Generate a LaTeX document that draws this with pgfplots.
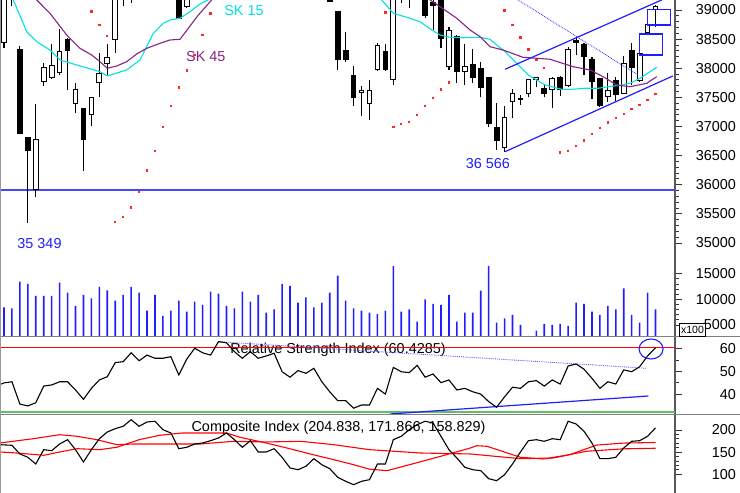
\documentclass[border=0pt]{standalone}
\usepackage{pgfplots}
\pgfplotsset{compat=1.18}
\usepackage{pgfplotstable}
\usepackage{fontspec}
\setmainfont{Liberation Sans}

\definecolor{skcyan}{RGB}{0,225,225}
\definecolor{skpurple}{RGB}{136,34,136}
\definecolor{lblue}{RGB}{30,30,255}
\definecolor{hblue}{RGB}{70,70,255}
\definecolor{dblue}{RGB}{90,90,255}
\definecolor{sarred}{RGB}{255,40,40}
\definecolor{rsigreen}{RGB}{100,190,100}
\newcommand\tfont{\fontsize{14.4}{16}\selectfont}

% candles: index, open, high, low, close, up(1)/down(0)
\pgfplotstableread{
i o h l c d
0 38438 39600 38342 39430 1
1 39380 39520 39069 39450 1
2 38325 38382 36866 36883 0
3 36814 36814 35349 36584 0
4 35921 37386 35784 36780 1
5 37769 38095 37700 38009 1
6 37845 38416 37815 38039 1
7 37923 38669 37884 38284 1
8 38497 38514 37626 38301 0
9 37386 37752 37226 37638 1
10 37312 37320 36241 36780 0
11 37214 37510 37008 37501 1
12 37752 38267 37511 37913 1
13 38073 38416 37884 38188 1
14 38497 39400 38267 39300 1
15 39350 39600 39069 39480 1
16 39480 39750 39125 39650 1
17 39650 39720 39300 39480 0
18 39480 39800 39450 39720 1
19 39720 39850 39550 39640 0
20 39640 39760 39520 39650 1
21 39650 39800 39500 39700 1
22 39500 39720 38840 38858 0
23 39057 39600 39040 39500 1
24 39520 39820 39450 39780 1
25 39780 39850 39600 39680 0
26 39680 39760 39550 39620 0
27 39650 40050 39600 40000 1
28 40000 40100 39900 40020 1
29 40020 40050 39800 39850 0
30 39850 39900 39650 39700 0
31 39700 39950 39650 39880 1
32 39880 39920 39650 39720 0
33 39720 39850 39650 39790 1
34 39790 39900 39700 39850 1
35 39850 39870 39450 39500 0
36 39500 39560 39300 39380 0
37 39380 39580 39350 39520 1
38 39520 39560 39380 39450 0
39 39450 39620 39400 39560 1
40 39560 39580 39300 39330 0
41 39330 39400 39130 39142 0
42 38971 38990 37970 38142 0
43 38301 38627 38112 38142 0
44 37867 38039 37352 37494 0
45 37580 37695 37179 37626 1
46 37398 37798 37111 37626 1
47 37970 38439 37958 38382 1
48 38284 38416 37958 37970 0
49 37815 39300 37712 39250 1
50 39250 39500 39115 39400 1
51 39380 39450 39029 39320 0
52 39320 39550 39250 39500 1
53 39450 39550 38858 38914 0
54 39125 39250 38657 39069 0
55 39250 39300 38342 38514 0
56 38027 38703 37970 38645 1
57 38542 38571 37752 37941 0
58 37941 38416 37712 38027 1
59 38056 38325 37752 37845 0
60 37999 38112 37501 37673 0
61 37845 37850 36986 37043 0
62 36986 37398 36600 36756 0
63 36643 37352 36566 37158 1
64 37426 37638 37141 37570 1
65 37484 37541 37369 37467 0
66 37570 37815 37501 37810 1
67 37810 37850 37673 37845 1
68 37656 37712 37501 37570 0
69 37638 37845 37312 37827 1
70 37845 37867 37523 37638 0
71 37712 38360 37673 38325 1
72 38473 38514 38227 38439 0
73 38416 38439 37884 38210 0
74 38142 38188 37467 37769 0
75 37827 37830 37340 37352 0
76 37511 37923 37426 37614 1
77 37798 37855 37426 37541 0
78 37570 38210 37558 38073 1
79 38301 38428 37712 38016 0
80 37798 38250 37769 38245 1
81 38610 38745 38605 38743 1
82 39012 39086 38713 39057 1
}\price

\pgfplotstableread{
i v
0 8445
1 8250
2 13450
3 12995
4 10655
5 10655
6 10655
7 13255
8 11305
9 8705
10 10850
11 10200
12 12410
13 11760
14 9745
15 10850
16 12410
17 11305
18 7795
19 10850
20 6755
21 7795
22 9745
23 7600
24 9550
25 8900
26 11500
27 11110
28 8705
29 8250
30 11500
31 9550
32 10850
33 7405
34 8055
35 12995
36 12605
37 9355
38 10395
39 8445
40 9355
41 11305
42 14620
43 9745
44 8250
45 7795
46 7405
47 7145
48 7795
49 16505
50 7600
51 8055
52 5650
53 10005
54 9095
55 8900
56 10850
57 5650
58 7405
59 7405
60 11695
61 16505
62 5455
63 6300
64 6950
65 5000
66 2855
67 3895
68 5195
69 5000
70 5195
71 4805
72 9355
73 9095
74 7600
75 6950
76 8705
77 8055
78 12150
79 6950
80 5455
81 11305
82 8055
}\vol

\pgfplotstableread{
i r
-1 43.6
0 45.0
1 45.5
2 35.7
3 34.9
4 36.3
5 43.6
6 44.1
7 45.5
8 45.5
9 41.9
10 37.8
11 42.6
12 46.3
13 47.7
14 53.9
15 54.3
16 58.2
17 54.7
18 57.2
19 55.8
20 55.8
21 56.5
22 48.5
23 55.4
24 60.2
25 58.2
26 57.2
27 63.1
28 62.6
29 58.7
30 55.8
31 58.7
32 55.8
33 56.8
34 58.0
35 49.9
36 47.5
37 50.4
38 49.2
39 51.4
40 45.5
41 41.1
42 37.2
43 37.2
44 33.9
45 35.3
46 35.3
47 42.6
48 40.1
49 51.8
50 49.9
51 49.5
52 52.7
53 47.5
54 48.9
55 45.1
56 46.3
57 41.9
58 42.6
59 41.1
60 40.1
61 36.8
62 34.3
63 38.9
64 43.1
65 42.6
66 45.5
67 46.0
68 43.6
69 46.3
70 44.5
71 52.4
72 53.3
73 51.0
74 47.0
75 42.6
76 45.5
77 44.5
78 50.7
79 49.9
80 52.1
81 56.8
82 60.43
}\rsi

\pgfplotstableread{
i c
-1 167.3
0 166.4
1 165.5
2 145.9
3 138.4
4 123.3
5 155.6
6 153.3
7 168.4
8 178.1
9 155.6
10 127.8
11 155.6
12 180.4
13 195.5
14 203.0
15 208.4
16 223.3
17 208.4
18 218.1
19 219.7
20 200.7
21 193.3
22 157.8
23 161.0
24 168.4
25 170.7
26 175.9
27 182.0
28 193.3
29 178.1
30 161.0
31 175.9
32 150.4
33 150.4
34 157.8
35 138.4
36 114.3
37 110.4
38 118.1
39 135.3
40 121.7
41 112.7
42 93.3
43 84.2
44 76.6
45 84.2
46 87.9
47 123.3
48 123.3
49 178.1
50 185.8
51 200.7
52 212.0
53 219.7
54 215.8
55 185.8
56 155.6
57 136.8
58 115.8
59 110.4
60 108.2
61 90.1
62 85.6
63 99.1
64 123.3
65 150.4
66 175.9
67 178.1
68 174.5
69 180.4
70 178.1
71 219.7
72 213.6
73 197.1
74 170.7
75 135.3
76 135.3
77 138.4
78 159.4
79 174.5
80 175.9
81 185.8
82 204.84
}\comp

\pgfplotsset{
  panel/.style={
    scale only axis, width=675pt, xmin=-0.503, xmax=84.45,
    anchor=south west,
    axis x line=none, axis y line*=right,
    scaled y ticks=false,
    tick align=outside, major tick length=7pt, minor tick length=4pt,
    tick style={black!80, line width=0.8pt},
    axis line style={black!65, line width=1.3pt},
    yticklabel style={font=\tfont, anchor=east, inner sep=0pt, xshift=54pt},
    /pgf/number format/1000 sep={},
    /pgf/number format/assume math mode=true,
  },
}

\begin{document}
\begin{tikzpicture}
\useasboundingbox (0pt,0pt) rectangle (740pt,493pt);

% ---------------- price panel ----------------
\begin{axis}[panel, at={(0pt,233pt)}, height=260pt,
  ymin=34707.5, ymax=39171.7,
  ytick={35000,35500,...,39000}, minor y tick num=4]
\addplot[draw=hblue, line width=1.7pt] coordinates {(-0.6,35914) (84.5,35914)};
% parabolic SAR
\addplot[sarred, only marks, mark=square*, mark size=0.7pt, mark options={draw=sarred, fill=sarred, line width=0pt}] table {
i p
11 38971
12 38743
13 38554
14 35365
15 35441
16 35612
17 35880
18 36241
19 36584
20 36986
21 37352
22 37669
23 37958
24 38227
25 38571
26 38943
48 38954
49 36986
50 37043
51 37082
52 37197
53 37352
54 37484
55 37638
56 37752
63 38988
64 38743
65 38531
66 38325
67 38142
68 37999
70 36550
71 36584
72 36665
73 36756
74 36871
75 36969
76 37065
77 37141
78 37214
79 37295
80 37369
81 37455
82 37558
};
% candles
\pgfplotsforeachungrouped \r in {0,...,82}{%
  \pgfplotstablegetelem{\r}{i}\of\price\edef\vI{\pgfplotsretval}%
  \pgfplotstablegetelem{\r}{o}\of\price\edef\vO{\pgfplotsretval}%
  \pgfplotstablegetelem{\r}{h}\of\price\edef\vH{\pgfplotsretval}%
  \pgfplotstablegetelem{\r}{l}\of\price\edef\vL{\pgfplotsretval}%
  \pgfplotstablegetelem{\r}{c}\of\price\edef\vC{\pgfplotsretval}%
  \pgfplotstablegetelem{\r}{d}\of\price\edef\vD{\pgfplotsretval}%
  \pgfmathsetmacro\xl{\vI-0.3}\pgfmathsetmacro\xr{\vI+0.3}%
  \ifnum\vD=1 \def\fc{white}\else\def\fc{black}\fi
  \edef\tmp{\noexpand\addplot[draw=black, line width=1.1pt, forget plot] coordinates {(\vI,\vL) (\vI,\vH)};
    \noexpand\addplot[draw=black, fill=\fc, line width=1pt, forget plot] coordinates {(\xl,\vO) (\xr,\vO) (\xr,\vC) (\xl,\vC)} -- cycle;}%
  \tmp
}
% SK 15
\addplot[draw=skcyan, line width=1.1pt] table {
x p
0.5 39515
1.17 39172
2.86 38627
4.12 38456
5.79 38313
7.05 38142
9.15 38056
12.08 37941
13.0 37867
15.44 37970
17.12 38142
18.79 38600
20.05 38772
20.89 38828
22.15 38858
23.41 38971
24.67 39103
25.71 39172
27.19 39429
32.2 39858
39.8 40030
44.8 39601
46.7 39309
47.54 39172
49.0 38943
50.69 38875
52.36 38799
53.83 38657
54.88 38571
56.14 38531
57.81 38524
59.91 38531
61.17 38497
62.01 38399
63.06 38284
64.32 38112
65.99 37884
68.09 37712
70.2 37638
71.46 37638
73.13 37656
74.8 37656
76.06 37683
77.75 37712
79.0 37752
80.26 37845
81.31 37941
82.15 38016
};
% SK 45
\addplot[draw=skpurple, line width=1.1pt] table {
x p
3.27 39429
4.12 39172
5.79 38943
7.89 38571
9.57 38342
11.04 38227
12.08 38112
13.0 37999
14.18 38038
15.44 38112
16.7 38245
17.96 38342
19.64 38428
20.89 38485
22.15 38497
23.2 38686
24.46 38914
26.14 39172
27.8 39480
37.3 40202
49.8 39858
53.0 39309
53.62 39172
54.88 39057
56.98 38858
58.65 38657
59.91 38542
61.17 38370
62.81 38313
65.32 38188
68.72 38154
71.62 38027
73.76 37970
75.4 37855
77.12 37712
78.79 37683
80.89 37741
82.15 37855
};
% trend channel and annotations
\addplot[draw=lblue, line width=1.2pt] coordinates {(63.06,37982) (82.77,39172)};
\addplot[draw=lblue, line width=1.2pt] coordinates {(63.06,36567) (84.17,37867)};
\addplot[draw=lblue, densely dotted, line width=0.8pt] coordinates {(64.7,39172) (79.8,37884)};
\addplot[draw=lblue, line width=1.2pt] coordinates {(80.0,38588) (82.9,38588) (82.9,38227) (80.0,38227)} -- cycle;
\addplot[draw=lblue, line width=1.2pt] coordinates {(81.0,39012) (83.9,39012) (83.9,38742) (81.0,38742)} -- cycle;
\node[font=\tfont, text=lblue, anchor=base, inner sep=0pt] at (axis cs:4.47,34913) {35 349};
\node[font=\tfont, text=lblue, anchor=base, inner sep=0pt] at (axis cs:60.9,36282) {36 566};
\node[font=\tfont, text=skcyan, anchor=base, inner sep=0pt] at (axis cs:30.2,38914) {SK 15};
\node[font=\tfont, text=skpurple, anchor=base, inner sep=0pt] at (axis cs:25.4,38112) {SK 45};
\end{axis}

% ---------------- volume panel ----------------
\begin{axis}[panel, at={(0pt,156pt)}, height=77pt,
  ymin=2660, ymax=17675,
  ytick={5000,10000,15000}, minor y tick num=4]
\addplot[ybar, bar width=1.6pt, bar shift=0pt, fill=lblue, draw=none] table[x=i, y=v] {\vol};
\end{axis}

% ---------------- RSI panel ----------------
\begin{axis}[panel, at={(0pt,78.5pt)}, height=77.5pt,
  ymin=31.14, ymax=65.13,
  ytick={40,50,60}, minor y tick num=1]
\node[font=\tfont, anchor=base, inner sep=0pt] at (axis cs:42.03,57.98) {Relative Strength Index (60.4285)};
\addplot[draw=red, line width=1.2pt] coordinates {(-0.6,60.43) (84.5,60.43)};
\addplot[draw=rsigreen, line width=2.3pt] coordinates {(-0.6,32.2) (84.5,32.2)};
\addplot[draw=dblue, densely dotted, line width=0.9pt] coordinates {(26.97,63.07) (80.9,51.4)};
\addplot[draw=lblue, line width=1.2pt] coordinates {(48.6,31.36) (81.1,39.25)};
\addplot[draw=black, line width=1.1pt] table[x=i, y=r] {\rsi};
\draw[lblue, line width=1.1pt] (axis cs:81.44,59.87) ellipse [x radius=12pt, y radius=10pt];
\end{axis}

% ---------------- composite panel ----------------
\begin{axis}[panel, at={(0pt,0pt)}, height=78.5pt,
  ymin=57.8, ymax=235.0,
  ytick={100,150,200}, minor y tick num=4]
\node[font=\tfont, anchor=base, inner sep=0pt] at (axis cs:42.1,197.7) {Composite Index (204.838, 171.866, 158.829)};
\addplot[draw=red, line width=1.1pt] table {
x f
-0.5 150.4
1.6 148.1
5.0 142.9
7.0 150.4
9.2 157.8
12.0 155.6
14.2 161.0
17.0 178.1
19.6 188.1
22.5 193.3
24.7 193.3
28.0 193.3
29.7 183.6
33.0 170.7
35.6 159.4
38.9 144.3
41.5 133.0
44.0 121.7
46.0 111.6
48.2 108.2
50.3 118.1
54.5 138.4
58.7 159.4
59.5 164.6
60.8 163.2
65.0 138.4
67.9 134.6
71.2 144.3
74.6 166.0
78.0 170.5
82.0 171.87
};
\addplot[draw=red, line width=1.1pt] table {
x s
-0.5 170.7
3.7 180.4
7.0 189.4
9.2 185.8
11.7 178.1
14.2 166.9
16.3 168.4
20.5 168.4
24.7 168.4
28.9 174.5
33.0 173.0
37.3 174.5
41.5 166.9
46.0 155.6
52.4 148.1
58.7 145.9
65.0 135.3
69.1 136.8
73.3 152.0
78.0 157.5
82.0 158.83
};
\addplot[draw=black, line width=1.1pt] table[x=i, y=c] {\comp};
\end{axis}

% frame lines
\draw[black!50, line width=1pt] (0pt,156pt) -- (740pt,156pt);
\draw[black!50, line width=1pt] (0pt,78.5pt) -- (740pt,78.5pt);
\draw[black!40, line width=1.4pt] (0.7pt,0pt) -- (0.7pt,493pt);
\node[draw=black, fill=white, line width=0.6pt, font=\fontsize{10.5}{12}\selectfont, inner sep=1.5pt, minimum height=13pt] at (692.5pt,163pt) {x100};
\end{tikzpicture}
\end{document}
